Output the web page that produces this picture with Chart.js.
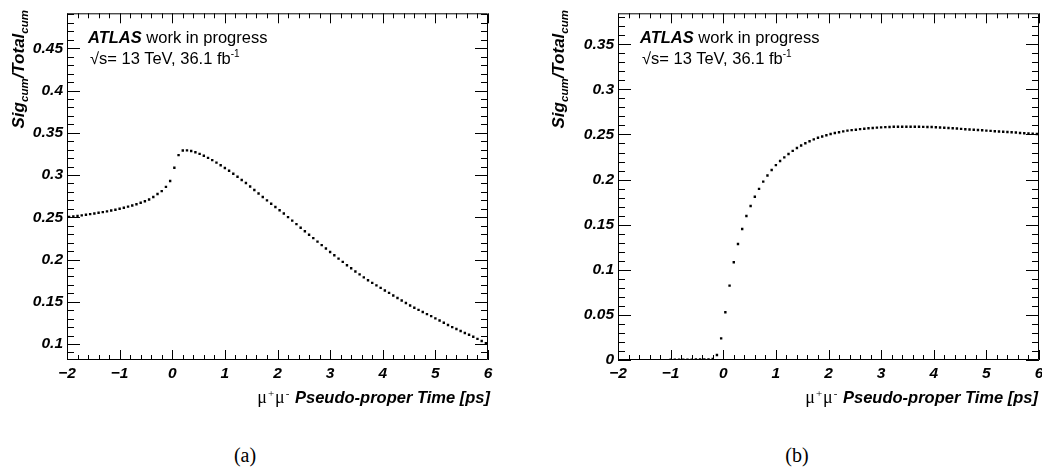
<!DOCTYPE html>
<html>
<head>
<meta charset="utf-8">
<script src="https://cdn.jsdelivr.net/npm/chart.js@4.4.1/dist/chart.umd.min.js"></script>
<style>
  html, body { margin: 0; padding: 0; background: #fff; }
  body { width: 1042px; height: 471px; position: relative; overflow: hidden; font-family: "Liberation Sans", Arial, sans-serif; }
  canvas { position: absolute; top: 0; }
  .lbl { position: absolute; white-space: nowrap; color: #000; }
  .atlas { font-size: 16.5px; line-height: 16px; }
  .atlas b { font-style: italic; }
  .lumi { font-size: 16.5px; line-height: 16px; }
  .lumi sup { font-size: 10px; line-height: 0; vertical-align: 7px; }
  .ytitle { font-size: 17px; line-height: 16px; font-weight: bold; font-style: italic; width: 200px; text-align: right;
            transform-origin: 0 0; transform: rotate(-90deg); }
  .ytitle sub { font-size: 11.5px; line-height: 0; vertical-align: -4px; }
  .xtitle { font-size: 16.5px; line-height: 17px; width: 300px; text-align: right; }
  .xtitle .mu { font-family: "Liberation Serif", serif; font-size: 18px; letter-spacing: 1px; }
  .xtitle .mu sup { font-size: 11px; line-height: 0; vertical-align: 6px; }
  .xtitle .t { font-weight: bold; font-style: italic; }
  .cap { font-family: "Liberation Serif", "DejaVu Serif", serif; font-size: 20px; line-height: 20px; width: 100px; text-align: center; }
</style>
</head>
<body>
<canvas id="chartA" width="530" height="400" style="left:0"></canvas>
<canvas id="chartB" width="530" height="400" style="left:520px"></canvas>

<!-- texto de los paneles -->
<div class="lbl atlas" style="left:88px;top:29px"><b>ATLAS</b> work in progress</div>
<div class="lbl lumi" style="left:90px;top:50px">√s= 13 TeV, 36.1 fb<sup>-1</sup></div>
<div class="lbl atlas" style="left:640px;top:29px"><b>ATLAS</b> work in progress</div>
<div class="lbl lumi" style="left:642px;top:50px">√s= 13 TeV, 36.1 fb<sup>-1</sup></div>

<div class="lbl ytitle" style="left:11px;top:210px">Sig<sub>cum</sub>/Total<sub>cum</sub></div>
<div class="lbl ytitle" style="left:551px;top:210px">Sig<sub>cum</sub>/Total<sub>cum</sub></div>

<div class="lbl xtitle" style="left:190px;top:389px"><span class="mu">μ<sup>+</sup>μ<sup>-</sup></span> <span class="t">Pseudo-proper Time [ps]</span></div>
<div class="lbl xtitle" style="left:738px;top:389px"><span class="mu">μ<sup>+</sup>μ<sup>-</sup></span> <span class="t">Pseudo-proper Time [ps]</span></div>

<div class="lbl cap" style="left:195px;top:445px">(a)</div>
<div class="lbl cap" style="left:747px;top:445px">(b)</div>

<script>
// --- datos ---
const binCenters = [
  -1.96, -1.88, -1.80, -1.72, -1.64, -1.56, -1.48, -1.40, -1.32, -1.24,
  -1.16, -1.08, -1.00, -0.92, -0.84, -0.76, -0.68, -0.60, -0.52, -0.44,
  -0.36, -0.28, -0.20, -0.12, -0.04, 0.04, 0.12, 0.20, 0.28, 0.36,
  0.44, 0.52, 0.60, 0.68, 0.76, 0.84, 0.92, 1.00, 1.08, 1.16,
  1.24, 1.32, 1.40, 1.48, 1.56, 1.64, 1.72, 1.80, 1.88, 1.96,
  2.04, 2.12, 2.20, 2.28, 2.36, 2.44, 2.52, 2.60, 2.68, 2.76,
  2.84, 2.92, 3.00, 3.08, 3.16, 3.24, 3.32, 3.40, 3.48, 3.56,
  3.64, 3.72, 3.80, 3.88, 3.96, 4.04, 4.12, 4.20, 4.28, 4.36,
  4.44, 4.52, 4.60, 4.68, 4.76, 4.84, 4.92, 5.00, 5.08, 5.16,
  5.24, 5.32, 5.40, 5.48, 5.56, 5.64, 5.72, 5.80, 5.88, 5.96
];

// (a)
const sigFracA = [
  0.2505, 0.2510, 0.2517, 0.2523, 0.2530, 0.2537, 0.2545, 0.2553, 0.2561, 0.2570,
  0.2580, 0.2590, 0.2601, 0.2613, 0.2626, 0.2640, 0.2655, 0.2672, 0.2690, 0.2711,
  0.2740, 0.2775, 0.2810, 0.2860, 0.2930, 0.3087, 0.3236, 0.3290, 0.3292, 0.3285,
  0.3270, 0.3250, 0.3228, 0.3203, 0.3176, 0.3147, 0.3116, 0.3084, 0.3050, 0.3015,
  0.2979, 0.2942, 0.2905, 0.2864, 0.2823, 0.2782, 0.2740, 0.2700, 0.2661, 0.2622,
  0.2583, 0.2544, 0.2502, 0.2460, 0.2419, 0.2377, 0.2335, 0.2294, 0.2253, 0.2212,
  0.2171, 0.2130, 0.2090, 0.2050, 0.2011, 0.1972, 0.1933, 0.1896, 0.1859, 0.1824,
  0.1789, 0.1755, 0.1724, 0.1694, 0.1664, 0.1634, 0.1605, 0.1575, 0.1545, 0.1515,
  0.1486, 0.1456, 0.1430, 0.1404, 0.1379, 0.1354, 0.1330, 0.1304, 0.1278, 0.1252,
  0.1226, 0.1200, 0.1177, 0.1154, 0.1131, 0.1109, 0.1086, 0.1061, 0.1036, 0.1010
];

// (b) - sin puntos visibles antes de -1 ps
const sigFracB = [
  null, null, null, null, null, null, null, null, null, null,
  null, null, 0.0003, 0.0003, 0.0004, 0.0003, 0.0004, 0.0004, 0.0005, 0.0005,
  0.0006, 0.0007, 0.0012, 0.0055, 0.0240, 0.0529, 0.0824, 0.1083, 0.1286, 0.1452,
  0.1596, 0.1707, 0.1810, 0.1897, 0.1977, 0.2045, 0.2106, 0.2160, 0.2205, 0.2246,
  0.2284, 0.2318, 0.2350, 0.2378, 0.2402, 0.2425, 0.2446, 0.2463, 0.2477, 0.2492,
  0.2505, 0.2516, 0.2525, 0.2534, 0.2542, 0.2548, 0.2553, 0.2559, 0.2564, 0.2568,
  0.2572, 0.2576, 0.2579, 0.2581, 0.2583, 0.2585, 0.2586, 0.2586, 0.2586, 0.2586,
  0.2585, 0.2585, 0.2584, 0.2583, 0.2582, 0.2580, 0.2578, 0.2575, 0.2572, 0.2569,
  0.2566, 0.2562, 0.2558, 0.2555, 0.2552, 0.2549, 0.2546, 0.2543, 0.2540, 0.2536,
  0.2533, 0.2530, 0.2527, 0.2524, 0.2521, 0.2517, 0.2514, 0.2511, 0.2508, 0.2505
];

const xTickValues = [-2, -1, 0, 1, 2, 3, 4, 5, 6];
const yTickValuesA = [0.1, 0.15, 0.2, 0.25, 0.3, 0.35, 0.4, 0.45];
const yTickValuesB = [0, 0.05, 0.1, 0.15, 0.2, 0.25, 0.3, 0.35];

const tickFont = { family: '"Liberation Sans", Arial, sans-serif', size: 15.5, weight: 'bold', style: 'italic' };

// marco estilo ROOT con ticks hacia adentro en los 4 lados
const rootFrame = {
    id: 'rootFrame',
    beforeDatasetsDraw(chart) {
        const { ctx, chartArea: a, scales } = chart;
        const x = scales.x, y = scales.y;
        ctx.save();
        ctx.strokeStyle = '#000';
        ctx.lineWidth = 1;
        ctx.beginPath();
        ctx.rect(a.left + 0.5, a.top + 0.5, a.right - a.left - 1, a.bottom - a.top - 1);

        for (let i = Math.ceil(x.min / 0.2 - 1e-6); i <= Math.floor(x.max / 0.2 + 1e-6); i++) {
            const v = i * 0.2;
            const major = Math.abs(v - Math.round(v)) < 1e-6;
            const len = major ? 10 : 5;
            const px = Math.round(x.getPixelForValue(v)) + 0.5;
            ctx.moveTo(px, a.bottom); ctx.lineTo(px, a.bottom - len);
            ctx.moveTo(px, a.top); ctx.lineTo(px, a.top + len);
        }
        for (let i = Math.ceil(y.min / 0.01 - 1e-6); i <= Math.floor(y.max / 0.01 + 1e-6); i++) {
            const v = i * 0.01;
            const major = i % 5 === 0;
            const len = major ? 13 : 7;
            const py = Math.round(y.getPixelForValue(v)) + 0.5;
            ctx.moveTo(a.left, py); ctx.lineTo(a.left + len, py);
            ctx.moveTo(a.right, py); ctx.lineTo(a.right - len, py);
        }
        ctx.stroke();
        ctx.restore();
    }
};

const makeChart = (id, values, yMin, yMax, yTicks, yWidth, padRight) => {
    const points = binCenters
        .map((t, i) => ({ x: t, y: values[i] }))
        .filter(p => p.y !== null);

    return new Chart(document.getElementById(id), {
        type: 'scatter',
        data: {
            datasets: [{
                data: points,
                pointStyle: 'rect',
                pointRadius: 1.7,
                pointHoverRadius: 1.7,
                backgroundColor: '#000',
                borderWidth: 0
            }]
        },
        options: {
            responsive: false,
            animation: false,
            devicePixelRatio: 1,
            layout: { padding: { left: 0, top: 13, right: padRight, bottom: 0 } },
            plugins: { legend: { display: false }, tooltip: { enabled: false } },
            scales: {
                x: {
                    type: 'linear', min: -2, max: 6,
                    afterBuildTicks: s => { s.ticks = xTickValues.map(v => ({ value: v })); },
                    afterFit: s => { s.height = 40; },
                    grid: { display: false, drawTicks: false },
                    border: { display: false },
                    ticks: {
                        font: tickFont, color: '#000', padding: 4, maxRotation: 0, autoSkip: false,
                        callback: v => String(v).replace('-', '\u2212')
                    }
                },
                y: {
                    type: 'linear', min: yMin, max: yMax,
                    afterBuildTicks: s => { s.ticks = yTicks.map(v => ({ value: v })); },
                    afterFit: s => { s.width = yWidth; },
                    grid: { display: false, drawTicks: false },
                    border: { display: false },
                    ticks: {
                        font: tickFont, color: '#000', padding: 4, autoSkip: false,
                        callback: v => String(Number(v.toFixed(2)))
                    }
                }
            }
        },
        plugins: [rootFrame]
    });
};

makeChart('chartA', sigFracA, 0.0811, 0.4914, yTickValuesA, 67, 42);
makeChart('chartB', sigFracB, 0, 0.3843, yTickValuesB, 98, 11);
</script>
</body>
</html>
